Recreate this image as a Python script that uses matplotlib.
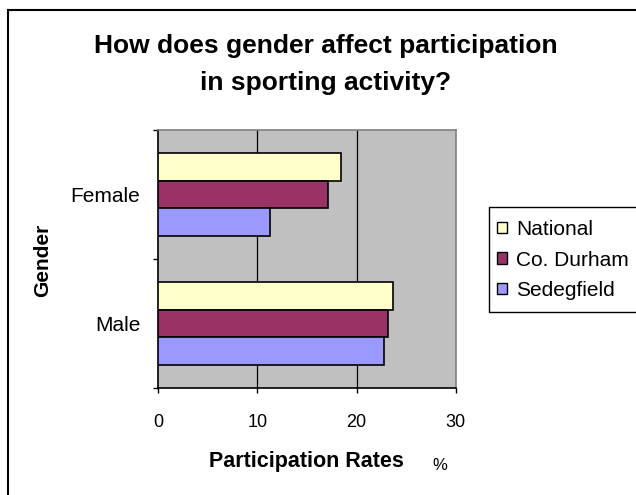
import matplotlib
matplotlib.use("Agg")
import matplotlib.pyplot as plt
from matplotlib.patches import Patch, Rectangle
import numpy as np

categories = ["Male", "Female"]
series_names = ["National", "Co. Durham", "Sedegfield"]
national = [23.7, 18.4]
co_durham = [23.2, 17.1]
sedegfield = [22.8, 11.3]
x_ticks = [0, 10, 20, 30]
colors = ["#FFFFCC", "#993366", "#9999FF"]

plt.rcParams['font.family'] = ['Liberation Sans', 'DejaVu Sans']

W, H = 636, 495
fig = plt.figure(figsize=(W / 100, H / 100), dpi=100)

# figure border (only left and top visible in reference)
fig.patches.append(Rectangle((8 / W, -0.05), 1.1, 1 - 10 / H + 0.05, transform=fig.transFigure,
                             fill=False, edgecolor="black", linewidth=1.5))

ax = fig.add_axes([158.3 / W, 1 - 388 / H, (455.7 - 158.3) / W, (388 - 130) / H])
ax.set_facecolor("#C0C0C0")

y = np.arange(len(categories))
h = 0.217
series = [national, co_durham, sedegfield]
offsets = [h, 0, -h]
for vals, off, c, name in zip(series, offsets, colors, series_names):
    ax.barh(y + off, vals, height=h, color=c, edgecolor="black", linewidth=1.2, label=name, zorder=3)

ax.set_xlim(0, 30)
ax.set_ylim(-0.5, 1.5)
ax.set_xticks(x_ticks)
ax.set_xticklabels([str(t) for t in x_ticks], fontsize=13)
for gx in x_ticks[1:-1]:
    ax.axvline(gx, color="black", linewidth=0.9, zorder=1)

ax.set_yticks([-0.5, 0.5, 1.5])
ax.set_yticklabels([])
ax.set_yticks(y, minor=True)
ax.set_yticklabels(categories, minor=True, fontsize=15)
ax.tick_params(axis="y", which="minor", length=0, pad=13)
ax.tick_params(axis="y", which="major", length=3.6, width=1, direction="out")
ax.tick_params(axis="x", length=3.6, width=1, direction="out", pad=15)

for s in ["left", "bottom"]:
    ax.spines[s].set_color("black")
    ax.spines[s].set_linewidth(1.2)
for s in ["top", "right"]:
    ax.spines[s].set_color("#808080")
    ax.spines[s].set_linewidth(1.2)

fig.text(326 / W, 1 - 53 / H, "How does gender affect participation",
         ha="center", va="baseline", fontsize=19, fontweight="bold")
fig.text(326 / W, 1 - 90 / H, "in sporting activity?",
         ha="center", va="baseline", fontsize=19, fontweight="bold")
fig.text(43 / W, 1 - 260 / H, "Gender", rotation=90, ha="center", va="center",
         fontsize=15, fontweight="bold")
fig.text(306.5 / W, 1 - 467 / H, "Participation Rates", ha="center", va="baseline",
         fontsize=15.5, fontweight="bold")
fig.text(440 / W, 1 - 470 / H, "%", ha="center", va="baseline", fontsize=12)

# legend frame (extends past the right edge as in reference)
fig.patches.append(Rectangle((489 / W, 1 - 312 / H), 0.5, 105 / H, transform=fig.transFigure,
                             fill=False, edgecolor="black", linewidth=1.0))

handles = [Patch(facecolor=c, edgecolor="black", linewidth=1.0) for c in colors]
leg = fig.legend(handles, series_names, loc="center left",
                 bbox_to_anchor=(497 / W, 1 - 260 / H), fontsize=15,
                 handlelength=0.48, handleheight=0.48, handletextpad=0.43,
                 labelspacing=0.55, borderpad=0, frameon=False,
                 borderaxespad=0)

fig.savefig("out.png", dpi=100)
